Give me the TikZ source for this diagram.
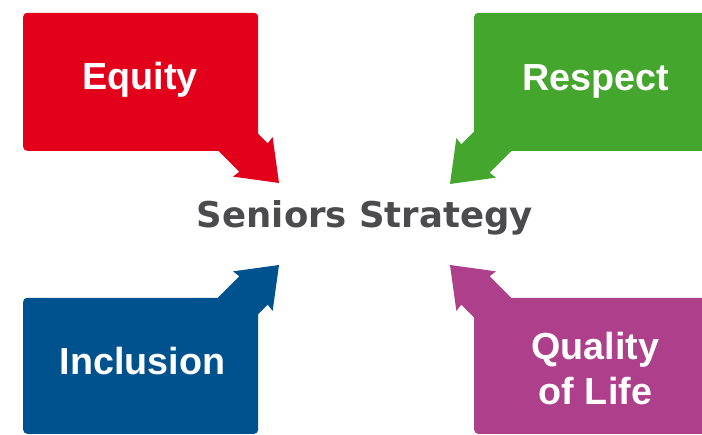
\documentclass[tikz,border=0pt]{standalone}
\usepackage{fontspec}
\setmainfont{Liberation Sans}
\newfontfamily\titlefont{DejaVu Sans}
\definecolor{equityred}{HTML}{E2001A}
\definecolor{respectgreen}{HTML}{45A62D}
\definecolor{inclusionblue}{HTML}{00528F}
\definecolor{qualitypurple}{HTML}{AE3F8A}
\definecolor{strategygrey}{HTML}{4B4B4D}
% fat arrow of a panel: colour, tip, direction
\newcommand{\calloutarrow}[3]{%
	\fill[#1, shift={(#2)}, rotate=#3] (0,0) -- (-37,28) -- (-36,20) -- (-95,20)
		-- (-95,-20) -- (-36,-20) -- (-37,-28) -- cycle;}

\begin{document}
\begin{tikzpicture}[x=1pt, y=1pt,
		panel/.style={rectangle, rounded corners=4pt, inner sep=0pt, anchor=south west},
		panel text/.style={text=white, font=\bfseries\fontsize{37.7}{45}\selectfont, align=center, anchor=base, inner sep=0pt}]
	\useasboundingbox (0,0) rectangle (702,435);

	% panels
	\node[panel, fill=equityred, minimum width=235, minimum height=138] (equity) at (23,284){};
	\node[panel, fill=respectgreen, minimum width=243, minimum height=138] (respect) at (474,284){};
	\node[panel, fill=inclusionblue, minimum width=235, minimum height=136] (inclusion) at (23,1){};
	\node[panel, fill=qualitypurple, minimum width=243, minimum height=136] (quality) at (474,1){};

	% arrow tips round the title
	\coordinate (equity tip) at (279,252);
	\coordinate (respect tip) at (450,251);
	\coordinate (inclusion tip) at (279,170);
	\coordinate (quality tip) at (450,170);
	\calloutarrow{equityred}{equity tip}{-45}
	\calloutarrow{respectgreen}{respect tip}{-135}
	\calloutarrow{inclusionblue}{inclusion tip}{45}
	\calloutarrow{qualitypurple}{quality tip}{135}

	% labels (base of a two line node is its last line)
	\node[panel text] (equity label) at (140,345){Equity};
	\node[panel text] (respect label) at (595.5,344){Respect};
	\node[panel text] (inclusion label) at (142.5,60){Inclusion};
	\node[panel text] (quality label) at (595.5,30){Quality\\of Life};

	\node[text=strategygrey, font=\titlefont\bfseries\fontsize{35.5}{42}\selectfont, anchor=base, inner sep=0pt] (strategy) at (365,207){Seniors Strategy};
\end{tikzpicture}
\end{document}
